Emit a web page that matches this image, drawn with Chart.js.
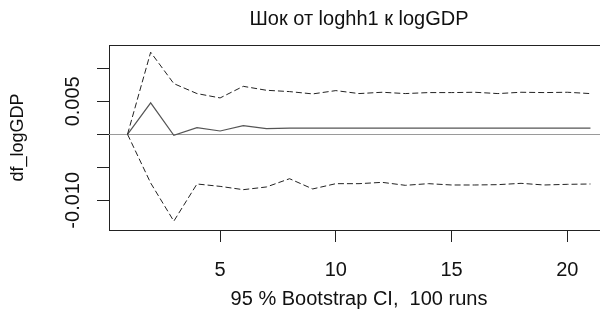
<!DOCTYPE html>
<html>
<head>
<meta charset="utf-8">
<script src="https://cdn.jsdelivr.net/npm/chart.js@4/dist/chart.umd.min.js"></script>
<style>
  html, body { margin: 0; padding: 0; background: #fff; overflow: hidden; }
  #wrap { width: 610px; height: 318px; }
</style>
</head>
<body>
<div id="wrap"><canvas id="irf"></canvas></div>
<script>
let steps = [1, 2, 3, 4, 5, 6, 7, 8, 9, 10, 11, 12, 13, 14, 15, 16, 17, 18, 19, 20, 21];
let irf = [0, 0.00476, -0.00015, 0.0010, 0.0005, 0.0013, 0.00085, 0.00095, 0.00095, 0.00095,
  0.00095, 0.00095, 0.00095, 0.00095, 0.00095, 0.00095, 0.00095, 0.00095, 0.00095, 0.00095, 0.00095];
let upper = [0, 0.01244, 0.00768, 0.00617, 0.00551, 0.00727, 0.00667, 0.00647, 0.00612, 0.00662,
  0.00617, 0.00637, 0.00617, 0.00632, 0.00632, 0.00637, 0.00617, 0.00637, 0.00632, 0.00637, 0.00617];
let lower = [0, -0.00738, -0.01316, -0.00753, -0.00789, -0.00839, -0.00798, -0.00673, -0.00828, -0.00748,
  -0.00748, -0.00728, -0.00773, -0.00748, -0.00768, -0.00768, -0.00763, -0.00743, -0.00768, -0.00758, -0.00753];
let xTicks = [5, 10, 15, 20];
let yTicks = [-0.01, -0.005, 0, 0.005, 0.01];
let yLabels = {'-0.01': '-0.010', '0.005': '0.005'};
let mainTitle = 'Шок от loghh1 к logGDP';

let fam = '"Liberation Sans", Arial, sans-serif';
let pts = (list) => list.map((v, i) => ({x: steps[i], y: v}));

// R-style box top, zero line, title and rotated y labels
let rStyle = {
  id: 'rStyle',
  beforeDatasetsDraw(chart) {
    let c = chart.ctx, a = chart.chartArea, y = chart.scales.y;
    c.save();
    c.strokeStyle = '#9a9a9a';
    c.lineWidth = 1;
    let y0 = Math.round(y.getPixelForValue(0)) + 0.5;
    c.beginPath(); c.moveTo(a.left, y0); c.lineTo(a.right, y0); c.stroke();
    c.restore();
  },
  afterDraw(chart) {
    let c = chart.ctx, a = chart.chartArea, y = chart.scales.y;
    c.save();
    c.strokeStyle = '#222';
    c.lineWidth = 1;
    c.beginPath(); c.moveTo(a.left, a.top + 0.5); c.lineTo(a.right, a.top + 0.5); c.stroke();
    c.fillStyle = '#111';
    c.font = '20px ' + fam;
    c.textAlign = 'center';
    c.textBaseline = 'alphabetic';
    c.fillText(mainTitle, (a.left + a.right) / 2, 24.5);
    c.textBaseline = 'middle';
    for (let k in yLabels) {
      let py = y.getPixelForValue(parseFloat(k));
      c.save();
      c.translate(73, py);
      c.rotate(-Math.PI / 2);
      c.fillText(yLabels[k], 0, 0);
      c.restore();
    }
    c.restore();
  }
};

new Chart(document.getElementById('irf'), {
  type: 'line',
  data: {
    datasets: [{
        data: pts(upper),
        borderColor: '#222',
        borderWidth: 1,
        borderDash: [6, 3],
        pointRadius: 0,
        fill: false
      }, {
        data: pts(lower),
        borderColor: '#222',
        borderWidth: 1,
        borderDash: [6, 3],
        pointRadius: 0,
        fill: false
      }, {
        data: pts(irf),
        borderColor: '#555',
        borderWidth: 1.2,
        pointRadius: 0,
        fill: false
      }
    ]
  },
  options: {
    responsive: true,
    maintainAspectRatio: false,
    animation: false,
    events: [],
    layout: { padding: { top: 45, right: 1, left: 0, bottom: 0 } },
    plugins: {
      legend: { display: false },
      tooltip: { enabled: false },
      title: { display: false }
    },
    scales: {
      x: {
        type: 'linear',
        min: 0.2,
        max: 21.8,
        afterBuildTicks: (s) => { s.ticks = xTicks.map(v => ({value: v})); },
        afterFit: (s) => { s.height = 88; },
        grid: { drawOnChartArea: false, tickLength: 12, color: '#222' },
        border: { color: '#222' },
        ticks: {
          color: '#111',
          padding: 16,
          maxRotation: 0,
          font: { family: fam, size: 20 }
        },
        title: {
          display: true,
          text: '95 % Bootstrap CI,  100 runs',
          color: '#111',
          padding: { top: 0, bottom: 7 },
          font: { family: fam, size: 20 }
        }
      },
      y: {
        min: -0.0145,
        max: 0.01353,
        afterBuildTicks: (s) => { s.ticks = yTicks.map(v => ({value: v})); },
        afterFit: (s) => { s.width = 109; },
        grid: { drawOnChartArea: false, tickLength: 12, color: '#222' },
        border: { color: '#222' },
        ticks: { display: false },
        title: {
          display: true,
          text: 'df_logGDP',
          color: '#111',
          padding: { top: 7, bottom: 0 },
          font: { family: fam, size: 18 }
        }
      }
    }
  },
  plugins: [rStyle]
});
</script>
</body>
</html>
